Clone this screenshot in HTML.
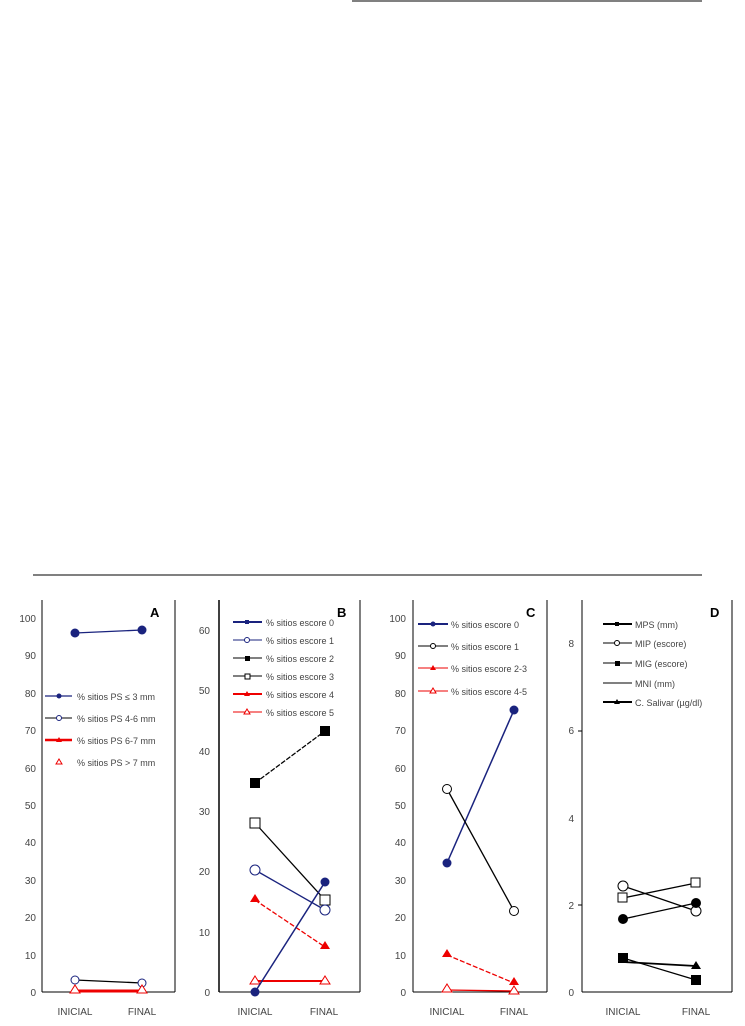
<!DOCTYPE html>
<html><head><style>body{margin:0;background:#fff}svg{display:block}text{font-family:"Liberation Sans",sans-serif;fill:#444}</style></head><body>
<svg width="745" height="1026" viewBox="0 0 745 1026" xmlns="http://www.w3.org/2000/svg">
<line x1="352" y1="1" x2="702" y2="1" stroke="#000"/>
<line x1="33" y1="575" x2="702" y2="575" stroke="#000"/>
<g font-size="10">
<!-- Panel A -->
<line x1="42" y1="600" x2="42" y2="992" stroke="#000"/><line x1="175" y1="600" x2="175" y2="992" stroke="#000"/>
<line x1="42" y1="992" x2="175" y2="992" stroke="#000"/>
<g text-anchor="end">
<text x="36" y="996">0</text><text x="36" y="959">10</text><text x="36" y="921">20</text><text x="36" y="884">30</text><text x="36" y="846">40</text><text x="36" y="809">50</text><text x="36" y="772">60</text><text x="36" y="734">70</text><text x="36" y="697">80</text><text x="36" y="659">90</text><text x="36" y="622">100</text></g>
<text x="150" y="617" font-size="13" font-weight="bold" fill="#000" style="fill:#000">A</text>
<line x1="45" y1="696" x2="72" y2="696" stroke="#1a237e" stroke-width="1.3"/><circle cx="59" cy="696" r="2.5" fill="#1a237e"/><text x="77" y="700" font-size="9">% sitios PS ≤ 3 mm</text>
<line x1="45" y1="718" x2="72" y2="718" stroke="#000"/><circle cx="59" cy="718" r="2.5" fill="#fff" stroke="#1a237e"/><text x="77" y="722" font-size="9">% sitios PS 4-6 mm</text>
<line x1="45" y1="740" x2="72" y2="740" stroke="#e00" stroke-width="2.5"/><path d="M59 737l3 5h-6z" fill="#e00"/><text x="77" y="744" font-size="9">% sitios PS 6-7 mm</text>
<path d="M59 759l3 5h-6z" fill="none" stroke="#e00"/><text x="77" y="766" font-size="9">% sitios PS &gt; 7 mm</text>
<line x1="75" y1="633" x2="142" y2="630" stroke="#1a237e" stroke-width="1.3"/><circle cx="75" cy="633" r="4.5" fill="#1a237e"/><circle cx="142" cy="630" r="4.5" fill="#1a237e"/>
<line x1="75" y1="980" x2="142" y2="983" stroke="#000" stroke-width="1.3"/><circle cx="75" cy="980" r="4" fill="#fff" stroke="#1a237e"/><circle cx="142" cy="983" r="4" fill="#fff" stroke="#1a237e"/>
<line x1="75" y1="991" x2="142" y2="991" stroke="#e00" stroke-width="3"/><path d="M75 985l5 8h-10z" fill="#fff" stroke="#e00"/><path d="M142 985l5 8h-10z" fill="#fff" stroke="#e00"/>
<text x="75" y="1015" text-anchor="middle">INICIAL</text><text x="142" y="1015" text-anchor="middle">FINAL</text>
<!-- Panel B -->
<line x1="219" y1="600" x2="219" y2="992" stroke="#000" stroke-width="1.5"/><line x1="360" y1="600" x2="360" y2="992" stroke="#000"/>
<line x1="219" y1="992" x2="360" y2="992" stroke="#000"/>
<g text-anchor="end"><text x="210" y="996">0</text><text x="210" y="936">10</text><text x="210" y="875">20</text><text x="210" y="815">30</text><text x="210" y="755">40</text><text x="210" y="694">50</text><text x="210" y="634">60</text></g>
<text x="337" y="617" font-size="13" font-weight="bold" style="fill:#000">B</text>
<g font-size="9">
<line x1="233" y1="622" x2="262" y2="622" stroke="#1a237e" stroke-width="2"/><rect x="245" y="620" width="4" height="4" fill="#1a237e"/><text x="266" y="626">% sitios escore 0</text>
<line x1="233" y1="640" x2="262" y2="640" stroke="#1a237e"/><circle cx="247" cy="640" r="2.5" fill="#fff" stroke="#1a237e"/><text x="266" y="644">% sitios escore 1</text>
<line x1="233" y1="658" x2="262" y2="658" stroke="#000"/><rect x="245" y="656" width="5" height="5" fill="#000"/><text x="266" y="662">% sitios escore 2</text>
<line x1="233" y1="676" x2="262" y2="676" stroke="#000"/><rect x="245" y="674" width="5" height="5" fill="#fff" stroke="#000"/><text x="266" y="680">% sitios escore 3</text>
<line x1="233" y1="694" x2="262" y2="694" stroke="#e00" stroke-width="2"/><path d="M247 691l3 5h-6z" fill="#e00"/><text x="266" y="698">% sitios escore 4</text>
<line x1="233" y1="712" x2="262" y2="712" stroke="#e00"/><path d="M247 709l3 5h-6z" fill="#fff" stroke="#e00"/><text x="266" y="716">% sitios escore 5</text>
</g>
<line x1="255" y1="783" x2="325" y2="731" stroke="#000" stroke-width="1.3" stroke-dasharray="5,1.5"/><rect x="250" y="778" width="10" height="10" fill="#000"/><rect x="320" y="726" width="10" height="10" fill="#000"/>
<line x1="255" y1="823" x2="325" y2="900" stroke="#000" stroke-width="1.3"/><rect x="250" y="818" width="10" height="10" fill="#fff" stroke="#000"/><rect x="320" y="895" width="10" height="10" fill="#fff" stroke="#000"/>
<line x1="255" y1="870" x2="325" y2="910" stroke="#1a237e" stroke-width="1.3"/><circle cx="255" cy="870" r="5" fill="#fff" stroke="#1a237e"/><circle cx="325" cy="910" r="5" fill="#fff" stroke="#1a237e"/>
<line x1="255" y1="900" x2="325" y2="947" stroke="#e00" stroke-width="1.3" stroke-dasharray="5,2"/><path d="M255 894l5 8h-10z" fill="#e00"/><path d="M325 941l5 8h-10z" fill="#e00"/>
<line x1="255" y1="981" x2="325" y2="981" stroke="#e00" stroke-width="2"/><path d="M255 976l5 8h-10z" fill="#fff" stroke="#e00"/><path d="M325 976l5 8h-10z" fill="#fff" stroke="#e00"/>
<line x1="255" y1="992" x2="325" y2="882" stroke="#1a237e" stroke-width="1.5"/><circle cx="255" cy="992" r="4.5" fill="#1a237e"/><circle cx="325" cy="882" r="4.5" fill="#1a237e"/>
<text x="255" y="1015" text-anchor="middle">INICIAL</text><text x="324" y="1015" text-anchor="middle">FINAL</text>
<!-- Panel C -->
<line x1="413" y1="600" x2="413" y2="992" stroke="#000"/><line x1="547" y1="600" x2="547" y2="992" stroke="#000"/>
<line x1="413" y1="992" x2="547" y2="992" stroke="#000"/>
<g text-anchor="end"><text x="406" y="996">0</text><text x="406" y="959">10</text><text x="406" y="921">20</text><text x="406" y="884">30</text><text x="406" y="846">40</text><text x="406" y="809">50</text><text x="406" y="772">60</text><text x="406" y="734">70</text><text x="406" y="697">80</text><text x="406" y="659">90</text><text x="406" y="622">100</text></g>
<text x="526" y="617" font-size="13" font-weight="bold" style="fill:#000">C</text>
<g font-size="9">
<line x1="418" y1="624" x2="448" y2="624" stroke="#1a237e" stroke-width="2"/><circle cx="433" cy="624" r="2.5" fill="#1a237e"/><text x="451" y="628">% sitios escore 0</text>
<line x1="418" y1="646" x2="448" y2="646" stroke="#000"/><circle cx="433" cy="646" r="2.5" fill="#fff" stroke="#000"/><text x="451" y="650">% sitios escore 1</text>
<line x1="418" y1="668" x2="448" y2="668" stroke="#e00"/><path d="M433 665l3 5h-6z" fill="#e00"/><text x="451" y="672">% sitios escore 2-3</text>
<line x1="418" y1="691" x2="448" y2="691" stroke="#e00"/><path d="M433 688l3 5h-6z" fill="#fff" stroke="#e00"/><text x="451" y="695">% sitios escore 4-5</text>
</g>
<line x1="447" y1="863" x2="514" y2="710" stroke="#1a237e" stroke-width="1.5"/><circle cx="447" cy="863" r="4.5" fill="#1a237e"/><circle cx="514" cy="710" r="4.5" fill="#1a237e"/>
<line x1="447" y1="789" x2="514" y2="911" stroke="#000" stroke-width="1.3"/><circle cx="447" cy="789" r="4.5" fill="#fff" stroke="#000"/><circle cx="514" cy="911" r="4.5" fill="#fff" stroke="#000"/>
<line x1="447" y1="955" x2="514" y2="983" stroke="#e00" stroke-width="1.3" stroke-dasharray="5,2"/><path d="M447 949l5 8h-10z" fill="#e00"/><path d="M514 977l5 8h-10z" fill="#e00"/>
<line x1="447" y1="990" x2="514" y2="991" stroke="#e00" stroke-width="1.3"/><path d="M447 984l5 8h-10z" fill="#fff" stroke="#e00"/><path d="M514 986l5 8h-10z" fill="#fff" stroke="#e00"/>
<text x="447" y="1015" text-anchor="middle">INICIAL</text><text x="514" y="1015" text-anchor="middle">FINAL</text>
<!-- Panel D -->
<line x1="582" y1="600" x2="582" y2="992" stroke="#000"/><line x1="732" y1="600" x2="732" y2="992" stroke="#000"/>
<line x1="582" y1="992" x2="732" y2="992" stroke="#000"/>
<g text-anchor="end"><text x="574" y="996">0</text><text x="574" y="909">2</text><text x="574" y="822">4</text><text x="574" y="734">6</text><text x="574" y="647">8</text></g>
<line x1="578" y1="905" x2="582" y2="905" stroke="#000"/><line x1="578" y1="731" x2="582" y2="731" stroke="#000"/>
<text x="710" y="617" font-size="13" font-weight="bold" style="fill:#000">D</text>
<g font-size="9">
<line x1="603" y1="624" x2="632" y2="624" stroke="#000" stroke-width="2"/><rect x="615" y="622" width="4" height="4" fill="#000"/><text x="635" y="628">MPS (mm)</text>
<line x1="603" y1="643" x2="632" y2="643" stroke="#000"/><circle cx="617" cy="643" r="2.5" fill="#fff" stroke="#000"/><text x="635" y="647">MIP (escore)</text>
<line x1="603" y1="663" x2="632" y2="663" stroke="#000"/><rect x="615" y="661" width="5" height="5" fill="#000"/><text x="635" y="667">MIG (escore)</text>
<line x1="603" y1="683" x2="632" y2="683" stroke="#000"/><text x="635" y="687">MNI (mm)</text>
<line x1="603" y1="702" x2="632" y2="702" stroke="#000" stroke-width="2"/><path d="M617 699l3 5h-6z" fill="#000"/><text x="635" y="706">C. Salivar (µg/dl)</text>
</g>
<line x1="623" y1="898" x2="696" y2="883" stroke="#000" stroke-width="1.3"/><rect x="618" y="893" width="9" height="9" fill="#fff" stroke="#000"/><rect x="691" y="878" width="9" height="9" fill="#fff" stroke="#000"/>
<line x1="623" y1="886" x2="696" y2="911" stroke="#000" stroke-width="1.3"/><circle cx="623" cy="886" r="5" fill="#fff" stroke="#000"/><circle cx="696" cy="911" r="5" fill="#fff" stroke="#000"/>
<line x1="623" y1="919" x2="696" y2="903" stroke="#000" stroke-width="1.3"/><circle cx="623" cy="919" r="5" fill="#000"/><circle cx="696" cy="903" r="5" fill="#000"/>
<line x1="623" y1="962" x2="696" y2="966" stroke="#000" stroke-width="1.8"/><path d="M623 955l5 8h-10z" fill="#000"/><path d="M696 961l5 8h-10z" fill="#000"/>
<line x1="623" y1="958" x2="696" y2="980" stroke="#000" stroke-width="1.3"/><rect x="618" y="953" width="10" height="10" fill="#000"/><rect x="691" y="975" width="10" height="10" fill="#000"/>
<text x="623" y="1015" text-anchor="middle">INICIAL</text><text x="696" y="1015" text-anchor="middle">FINAL</text>
</g>
</svg>
</body></html>
